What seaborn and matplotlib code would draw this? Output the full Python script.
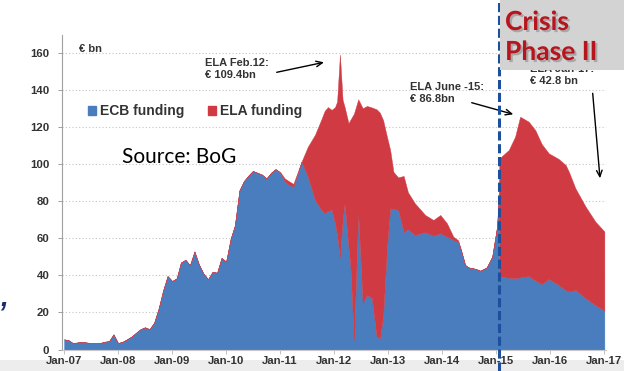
import numpy as np
import pandas as pd
import matplotlib
matplotlib.use("Agg")
import matplotlib.pyplot as plt
import matplotlib.transforms as mtransforms
import matplotlib.patheffects as pe
from matplotlib.patches import Patch, Rectangle
import seaborn as sns

sns.set_style("white")
plt.rcParams['font.family'] = ['Liberation Sans', 'DejaVu Sans']

# 数据 (€ bn)
# 2007-01 .. 2011-04 按月
monthly_start = '2007-01-01'
monthly_end = '2011-04-01'
ecb_monthly = [
    5.5, 5.0, 3.5, 3.8, 4.2, 3.8, 3.5, 3.4, 3.5, 4.2, 4.5, 8.2,
    3.5, 4.2, 5.5, 7.0, 9.0, 11.0, 12.0, 11.0, 14.5, 22.0, 32.0, 39.7,
    37.0, 38.5, 47.0, 48.5, 45.5, 53.0, 46.0, 41.0, 38.0, 42.0, 41.5, 49.5,
    47.5, 60.0, 67.0, 86.0, 91.0, 94.0, 96.5, 95.5, 94.5, 92.5, 95.5, 97.5,
    95.5, 91.0, 89.0, 88.0,
]
# no ELA before 2011
ela_monthly = [0.0] * 48 + [0.5, 1.5, 2.0, 1.5]

# 2011-05 以后, 不规则日期
late_dates = [
    '2011-05-01', '2011-05-26', '2011-07-08', '2011-08-25', '2011-10-08', '2011-10-30', '2011-11-21', '2011-12-16',
    '2012-01-08', '2012-01-22', '2012-02-10', '2012-02-28', '2012-03-13', '2012-04-08', '2012-04-20', '2012-05-15',
    '2012-06-13', '2012-07-13', '2012-08-11', '2012-09-13', '2012-10-15', '2012-11-06', '2012-11-28', '2012-12-24',
    '2013-01-15', '2013-02-06', '2013-03-10', '2013-04-16', '2013-05-15', '2013-07-01', '2013-09-09', '2013-11-03',
    '2013-12-20',
    '2014-02-03', '2014-03-18', '2014-04-20', '2014-05-08', '2014-06-06', '2014-06-28', '2014-08-15', '2014-09-16',
    '2014-10-30', '2014-12-06',
    '2015-01-08', '2015-01-18', '2015-01-24', '2015-03-28', '2015-05-10', '2015-06-13', '2015-08-10', '2015-09-24',
    '2015-11-06', '2015-12-24',
    '2016-02-28', '2016-04-16', '2016-05-08', '2016-06-21', '2016-08-29', '2016-11-03',
    '2017-01-03',
]
ecb_late = [
    95.0, 101.5, 93.4, 80.8, 75.4, 73.6, 75.0, 75.4,
    68.2, 62.0, 50.0, 70.0, 79.0, 55.0, 46.6, 5.1, 73.6, 25.0, 29.5, 27.7, 7.0, 6.0, 17.7, 55.0,
    76.3, 76.0, 75.4, 63.5, 65.0, 61.9, 63.4, 61.5, 62.8,
    61.0, 59.2, 58.0, 54.0, 45.7, 44.4, 43.6, 42.6, 44.4, 50.2,
    66.4, 80.0, 39.4, 38.8, 38.5, 39.0, 39.7, 37.2, 35.4, 38.1,
    34.9, 32.0, 31.3, 32.2, 27.7, 24.0,
    21.0,
]
ela_late = [
    1.0, 0.0, 16.2, 35.2, 49.1, 55.4, 56.0, 54.1,
    62.8, 72.0, 109.4, 65.0, 52.0, 67.3, 77.4, 122.4, 61.6, 105.4, 102.1, 103.1, 122.8, 122.0, 106.3, 60.0,
    31.5, 20.0, 17.6, 30.3, 20.0, 17.1, 9.3, 8.5, 9.9,
    7.2, 1.8, 1.0, 0.0, 0.0, 0.0, 0.0, 0.0, 0.0, 0.0,
    0.0, 0.0, 63.9, 69.0, 76.5, 86.8, 83.4, 81.3, 75.6, 67.9,
    68.1, 67.7, 64.7, 54.9, 49.5, 45.1,
    42.8,
]

crisis_date = '2015-01-20'
tick_years = list(range(2007, 2018))
tick_labels = ['Jan-07', 'Jan-08', 'Jan-09', 'Jan-10', 'Jan-11', 'Jan-12',
               'Jan-13', 'Jan-14', 'Jan-15', 'Jan-16', 'Jan-17']
y_ticks = [0, 20, 40, 60, 80, 100, 120, 140, 160]

BLUE = '#4a7dbe'
RED = '#d03a43'
TXT = '#333333'

dates = pd.to_datetime(list(pd.date_range(monthly_start, monthly_end, freq='MS')) + late_dates)
df = pd.DataFrame({'date': dates, 'ECB': ecb_monthly + ecb_late, 'ELA': ela_monthly + ela_late})

fig = plt.figure(figsize=(6.24, 3.71), dpi=100)
H = 371.0
W = 624.0

# 底部灰条
fig.add_artist(Rectangle((0, 0), 1, 11 / H, transform=fig.transFigure,
                         facecolor='#ededed', edgecolor='none', zorder=-1))

ax = fig.add_axes([62 / W, (H - 349.5) / H, (606 - 62) / W, (349.5 - 34.9) / H])

ax.stackplot(df['date'], df['ECB'], df['ELA'], colors=[BLUE, RED],
             edgecolor='face', linewidth=0.3, zorder=2)

ax.set_xlim(pd.Timestamp('2006-12-18'), pd.Timestamp('2017-01-14'))
ax.set_ylim(0, 170)
ax.set_yticks(y_ticks)
ax.set_xticks([pd.Timestamp(f'{y}-01-01') for y in tick_years])
ax.set_xticklabels(tick_labels)
ax.yaxis.grid(True, color='#c4c4c4', linestyle=(0, (1, 2)), linewidth=0.8)
ax.xaxis.grid(False)
for t in ax.get_yticklabels() + ax.get_xticklabels():
    t.set_fontweight('bold')
    t.set_fontsize(8.2)
    t.set_color(TXT)
ax.tick_params(axis='y', length=3, width=0.7, color='#a0a0a0', pad=6, left=True)
ax.tick_params(axis='x', length=3, width=0.7, color='#c0c0c0', pad=1.5, bottom=True)
sns.despine(ax=ax)
ax.spines['left'].set_color('#a0a0a0')
ax.spines['left'].set_linewidth(0.8)
ax.spines['bottom'].set_color('#c8c8c8')
ax.spines['bottom'].set_linewidth(0.8)

leg = ax.legend(handles=[Patch(color=BLUE, label='ECB funding'), Patch(color=RED, label='ELA funding')],
                loc='center left', bbox_to_anchor=(0.048, 0.758), ncol=2, frameon=False,
                prop={'family': 'Liberation Sans', 'weight': 'bold', 'size': 10},
                handlelength=0.6, handleheight=0.6, handletextpad=0.25, columnspacing=1.7,
                borderpad=0, borderaxespad=0)
for t in leg.get_texts():
    t.set_color(TXT)

# 危机分界线
trans = mtransforms.blended_transform_factory(ax.transData, fig.transFigure)
ax.plot([pd.Timestamp(crisis_date)] * 2, [0, 1], transform=trans, clip_on=False,
        color='#1d4f9c', lw=2.2, dashes=(3, 1.2), zorder=5)


def ptxt(x, y, s, **kw):
    # 以图片像素位置放文字 (y从上往下)
    return fig.text(x / W, 1 - y / H, s, **kw)


bold8 = dict(fontsize=8, fontweight='bold', color=TXT, va='baseline', ha='left')
ptxt(79, 51.5, '€ bn', **bold8)
ptxt(205, 66.5, 'ELA Feb.12:', **bold8)
ptxt(205, 77.5, '€ 109.4bn', **bold8)
ptxt(410, 89.5, 'ELA June -15:', **bold8)
ptxt(410, 101.5, '€ 86.8bn', **bold8)
ptxt(530, 72.5, 'ELA Jan-17:', zorder=3, **bold8)
ptxt(530, 84.5, '€ 42.8 bn', zorder=3, **bold8)

ptxt(122, 163, 'Source: BoG', family=['Lato', 'DejaVu Sans'], fontsize=15, color='black', va='baseline')

arrow = dict(arrowstyle='->,head_length=0.45,head_width=0.2', color='black', lw=1.0, shrinkA=0, shrinkB=0)
for tail, head in [((276.7, 72.3), (324, 62.3)),
                   ((471.7, 102.7), (513.3, 114.3)),
                   ((592.7, 93.3), (600, 178.3))]:
    ax.annotate('', xy=(head[0], H - head[1]), xycoords='figure pixels',
                xytext=(tail[0], H - tail[1]), textcoords='figure pixels',
                arrowprops=arrow, annotation_clip=False)

# Crisis Phase II 框
fig.add_artist(Rectangle((500 / W, 1 - 70 / H), 124 / W, 70 / H, transform=fig.transFigure,
                         facecolor='#d3d3d3', edgecolor='none', zorder=6))
for yy, s in [(30, 'Crisis'), (60, 'Phase II')]:
    t = ptxt(505, yy, s, family=['Lato', 'DejaVu Sans'], fontsize=19, fontweight='bold', color='#b8141e',
             va='baseline', ha='left', zorder=7)
    t.set_path_effects([pe.SimplePatchShadow(offset=(1.5, -1.5), shadow_rgbFace='#555555', alpha=0.35),
                        pe.Normal()])

# 左边残留符号
ptxt(0, 305, ',', fontsize=20, fontweight='bold', fontstyle='italic', color='#1b2a6b', va='baseline')

plt.savefig('out.png', dpi=100)
